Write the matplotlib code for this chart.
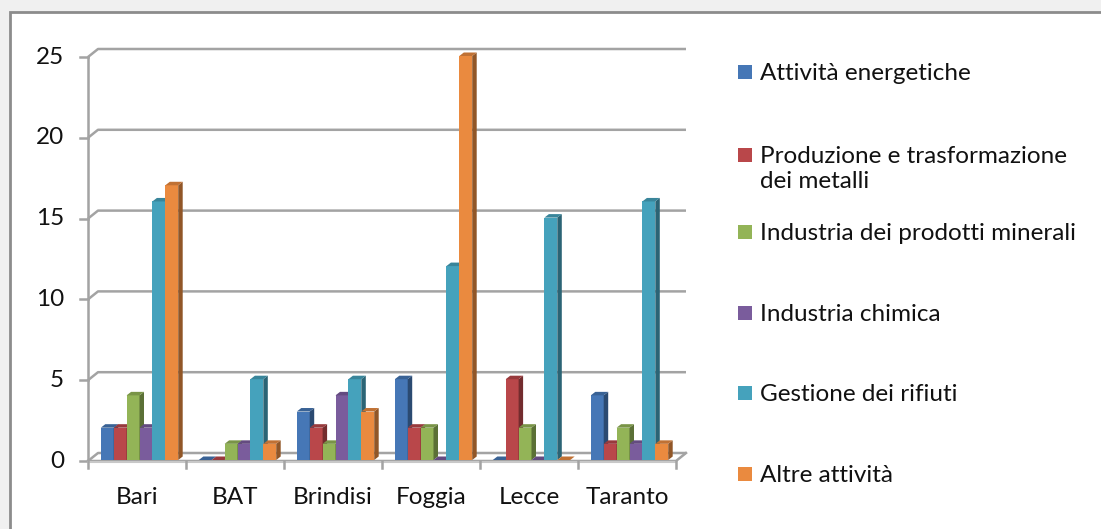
import matplotlib
matplotlib.use("Agg")
import matplotlib.pyplot as plt
from matplotlib.patches import Rectangle, Polygon
import numpy as np

# ---- data ----
categories = ["Bari", "BAT", "Brindisi", "Foggia", "Lecce", "Taranto"]
series_names = ["Attività energetiche",
                "Produzione e trasformazione\ndei metalli",
                "Industria dei prodotti minerali",
                "Industria chimica",
                "Gestione dei rifiuti",
                "Altre attività"]
attivita_energetiche = [2, 0, 3, 5, 0, 4]
produzione_metalli = [2, 0, 2, 2, 5, 1]
prodotti_minerali = [4, 1, 1, 2, 2, 2]
industria_chimica = [2, 1, 4, 0, 0, 1]
gestione_rifiuti = [16, 5, 5, 12, 15, 16]
altre_attivita = [17, 1, 3, 25, 0, 1]
series_values = [attivita_energetiche, produzione_metalli, prodotti_minerali,
                 industria_chimica, gestione_rifiuti, altre_attivita]
y_ticks = [0, 5, 10, 15, 20, 25]

colors = ["#4677B6", "#B9474A", "#93B457", "#7A5C9C", "#45A2BC", "#EA8A3F"]

FONT = "Lato"
FS = 17.5
TXT = "#111111"
W, H = 1101, 529
fig = plt.figure(figsize=(W / 100, H / 100), dpi=100)
fig.patch.set_facecolor("#F0F0F0")

# chart area (white with grey border)
fig.patches.append(Rectangle((10 / W, -0.1), 1.2, 1.1 - 12 / H, transform=fig.transFigure,
                             facecolor="white", edgecolor="#8C8C8C", linewidth=2, zorder=-5))

x0, x1, y0, y1 = 88, 676, 461, 57
ax = fig.add_axes([x0 / W, 1 - y0 / H, (x1 - x0) / W, (y0 - y1) / H])
ax.set_zorder(2)
ax.set_xlim(-0.5, len(categories) - 0.5)
ax.set_ylim(0, 25)
ax.patch.set_alpha(0)
for s in ax.spines.values():
    s.set_visible(False)
ax.set_xticks([])
ax.set_yticks([])

ppx = (x1 - x0) / len(categories)   # pixels per x data unit
ppy = (y0 - y1) / 25.0              # pixels per y data unit


def off(dxp, dyp):
    return dxp / ppx, dyp / ppy


gc = "#A3A3A3"
glw = 1.8
# back wall offset
bdx, bdy = off(10, 8)
xl, xr = -0.5, len(categories) - 0.5
for t in y_ticks:
    ax.plot([xl, xl + bdx, xr + bdx], [t, t + bdy, t + bdy], color=gc, lw=glw,
            clip_on=False, zorder=1, solid_capstyle="butt")
    ax.plot([xl - 8 / ppx, xl], [t, t], color=gc, lw=glw, clip_on=False, zorder=1)
    ax.text(xl - 24 / ppx, t, str(t), ha="right", va="center", fontsize=FS,
            family=FONT, color=TXT)
# left front axis
ax.plot([xl, xl], [0, 25], color=gc, lw=glw, clip_on=False, zorder=1)
# floor front + right edge
ax.plot([xl, xr, xr + bdx], [0, 0, bdy], color=gc, lw=glw, clip_on=False, zorder=1)
ax.plot([xl, xr], [-1.2 / ppy, -1.2 / ppy], color="#C8C8C8", lw=1.5, clip_on=False, zorder=1)
# category ticks
for i in range(len(categories) + 1):
    xt = xl + i
    ax.plot([xt, xt], [0, -7 / ppy], color=gc, lw=glw, clip_on=False, zorder=1)
for i, c in enumerate(categories):
    ax.text(i, -37 / ppy, c, ha="center", va="center", fontsize=FS,
            family=FONT, color=TXT)

# 3D-looking bars
n = len(series_values)
bw = 12.9 / ppx
sx, sy = off(2.5, 1)
ddx, ddy = off(4.5, 3.5)


def shade(c, f):
    rgb = np.array(matplotlib.colors.to_rgb(c))
    if f < 1:
        rgb = rgb * f
    else:
        rgb = rgb + (1 - rgb) * (f - 1)
    return np.clip(rgb, 0, 1)


for j, (vals, col) in enumerate(zip(series_values, colors)):
    xs = np.arange(len(categories)) + (j - (n - 1) / 2) * bw + sx
    ax.bar(xs, vals, width=bw, bottom=sy, color=col, edgecolor="none", zorder=3 + j,
           clip_on=False)
    for xc, v in zip(xs, vals):
        xa, xb = xc - bw / 2, xc + bw / 2
        top = v + sy
        side = Polygon([(xb, sy), (xb, top), (xb + ddx, top + ddy), (xb + ddx, sy + ddy)],
                       closed=True, facecolor=shade(col, 0.62), edgecolor="none",
                       zorder=3 + j, clip_on=False)
        topf = Polygon([(xa, top), (xb, top), (xb + ddx, top + ddy), (xa + ddx, top + ddy)],
                       closed=True, facecolor=shade(col, 0.82), edgecolor="none",
                       zorder=3 + j, clip_on=False)
        ax.add_patch(side)
        ax.add_patch(topf)

# legend (manual, Excel-style)
leg_y = [72, 155, 232, 313, 393, 474]
for name, col, yy in zip(series_names, colors, leg_y):
    fig.patches.append(Rectangle((738 / W, 1 - (yy + 7) / H), 14 / W, 14 / H,
                                 transform=fig.transFigure, facecolor=col,
                                 edgecolor="none", zorder=2))
    fig.text(760 / W, 1 - (yy - 9) / H, name, ha="left", va="top", fontsize=FS,
             family=FONT, color=TXT, linespacing=1.25)

fig.savefig("out.png", dpi=100, facecolor=fig.get_facecolor())
